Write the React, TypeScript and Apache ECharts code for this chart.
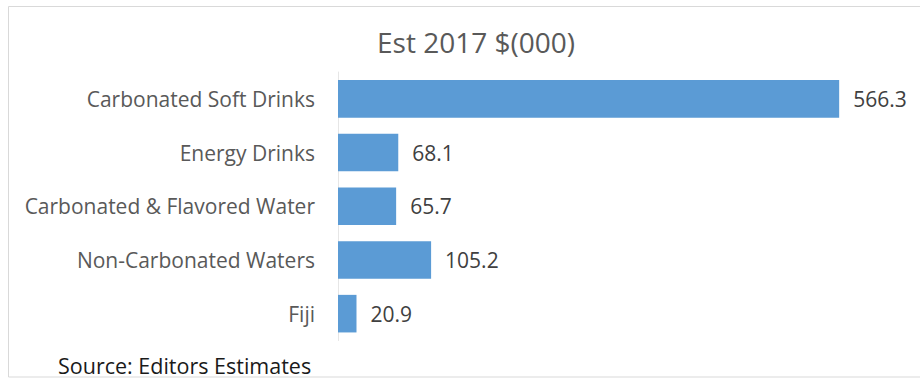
import React, { useEffect, useRef } from "react";
import * as echarts from "echarts";

const categories = [
  "Carbonated Soft Drinks",
  "Energy Drinks",
  "Carbonated & Flavored Water",
  "Non-Carbonated Waters",
  "Fiji",
];
const values = [566.3, 68.1, 65.7, 105.2, 20.9];
const titleText = "Est 2017 $(000)";
const sourceText = "Source: Editors Estimates";

const FONT = "'Open Sans', sans-serif";

export default function App() {
  const ref = useRef<HTMLDivElement>(null);
  useEffect(() => {
    if (!ref.current) return;
    const chart = echarts.init(ref.current, null, { renderer: "svg" });
    chart.setOption({
      animation: false,
      backgroundColor: "#ffffff",
      title: {
        text: titleText,
        left: 471,
        textAlign: "center",
        top: 23,
        textStyle: { color: "#595959", fontSize: 28, fontWeight: "normal", fontFamily: FONT },
      },
      graphic: [
        {
          type: "rect",
          shape: { x: 8.5, y: 6.5, width: 930, height: 370.5 },
          style: { fill: "none", stroke: "#d9d9d9", lineWidth: 1 },
          silent: true,
        },
        {
          type: "text",
          left: 58,
          top: 354,
          style: { text: sourceText, fill: "#1a1a1a", fontSize: 21.5, fontFamily: FONT },
        },
      ],
      grid: { left: 338, top: 72, height: 268.5, width: 531, containLabel: false },
      xAxis: {
        type: "value",
        min: 0,
        max: 600,
        show: false,
      },
      yAxis: {
        type: "category",
        data: categories,
        inverse: true,
        axisLine: { show: true, lineStyle: { color: "#e6e6e6", width: 1 } },
        axisTick: { show: false },
        axisLabel: { color: "#595959", fontSize: 21, fontFamily: FONT, margin: 23 },
        splitLine: { show: false },
      },
      series: [
        {
          type: "bar",
          data: values,
          barCategoryGap: "30%",
          itemStyle: { color: "#5b9bd5" },
          label: {
            show: true,
            position: "right",
            distance: 14,
            color: "#404040",
            fontSize: 21,
            fontFamily: FONT,
            formatter: (p: any) => p.value.toFixed(1),
          },
        },
      ],
    });
    return () => chart.dispose();
  }, []);
  return (
    <div
      ref={ref}
      style={{ position: "absolute", left: 0, top: 0, width: 920, height: 379 }}
    />
  );
}
